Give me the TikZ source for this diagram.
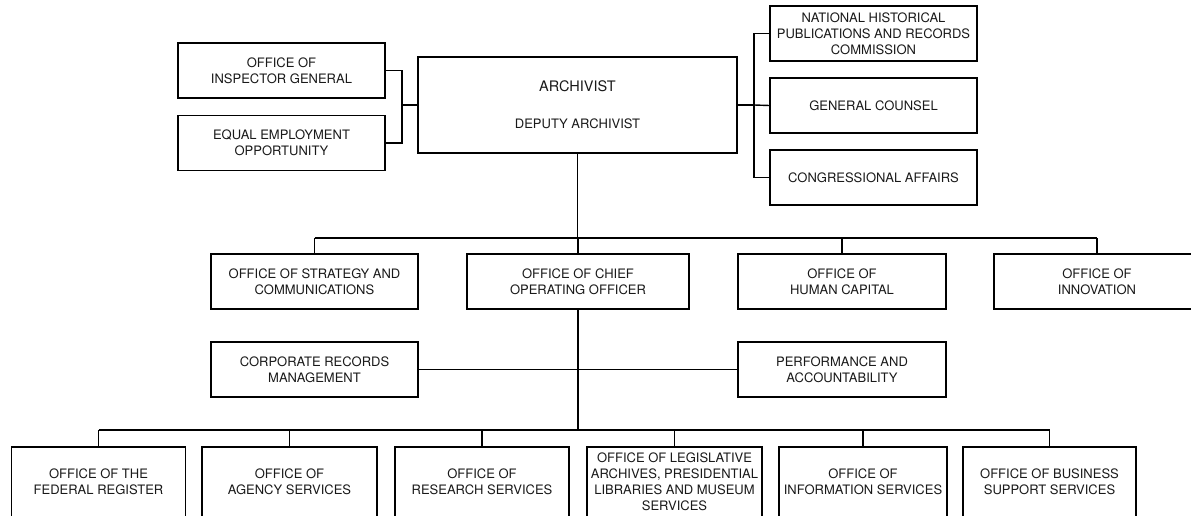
\documentclass[tikz,border=0pt]{standalone}
\usepackage{fontspec}
\setmainfont{TeX Gyre Heros}
\usetikzlibrary{positioning}

\begin{document}
\begin{tikzpicture}[
        x=1pt, y=-1pt,
        font=\fontsize{13}{16}\selectfont,
        box/.style={draw, line width=1.4pt, align=center, inner sep=0pt, minimum width=207pt, minimum height=55pt, fill=white, text=black!90},
        unitbox/.style={box, minimum width=174pt, minimum height=70pt},
        link/.style={line width=1.4pt}
    ]
        \clip (0,0) rectangle (1191,516);

        \node[box] (oig) at (281.5,70.5) {OFFICE OF\\INSPECTOR GENERAL};
        \node[box] (eeo) at (281.5,143) {EQUAL EMPLOYMENT\\OPPORTUNITY};
        \node[box, minimum width=319pt, minimum height=96pt] (archivist) at (577.5,105) {{\fontsize{14.5}{16}\selectfont ARCHIVIST}\\[21pt]DEPUTY ARCHIVIST};

        \node[box] (nhprc) at (873.5,33.5) {NATIONAL HISTORICAL\\PUBLICATIONS AND RECORDS\\COMMISSION};
        \node[box] (counsel) at (873.5,105.5) {GENERAL COUNSEL};
        \node[box] (congress) at (873.5,177.5) {CONGRESSIONAL AFFAIRS};

        \node[box] (strategy) at (314.5,281.5) {OFFICE OF STRATEGY AND\\COMMUNICATIONS};
        \node[box, minimum width=222pt] (coo) at (578,281.5) {OFFICE OF CHIEF\\OPERATING OFFICER};
        \node[box, minimum width=208pt] (capital) at (842,281.5) {OFFICE OF\\HUMAN CAPITAL};
        \node[box, minimum width=206pt] (innovation) at (1097,281.5) {OFFICE OF\\INNOVATION};

        \node[box] (records) at (314.5,369.5) {CORPORATE RECORDS\\MANAGEMENT};
        \node[box, minimum width=208pt] (performance) at (842,369.5) {PERFORMANCE AND\\ACCOUNTABILITY};

        \node[unitbox] (fedreg) at (98.5,482) {OFFICE OF THE\\FEDERAL REGISTER};
        \node[unitbox, minimum width=175pt] (agency) at (289.5,482) {OFFICE OF\\AGENCY SERVICES};
        \node[unitbox] (research) at (482,482) {OFFICE OF\\RESEARCH SERVICES};
        \node[unitbox, minimum width=175pt] (legislative) at (674.5,482) {OFFICE OF LEGISLATIVE\\ARCHIVES, PRESIDENTIAL\\LIBRARIES AND MUSEUM\\SERVICES};
        \node[unitbox, minimum width=168pt] (information) at (863,482) {OFFICE OF\\INFORMATION SERVICES};
        \node[unitbox, minimum width=173pt] (business) at (1049.5,482) {OFFICE OF BUSINESS\\SUPPORT SERVICES};

        \coordinate (leftbus) at (402,105);
        \coordinate (rightbus) at (754,105);
        \coordinate (staffbus) at (578,238);
        \coordinate (unitbus) at (578,430);

        \draw[link] (oig.east) -| (leftbus) |- (eeo.east);
        \draw[link] (leftbus) -- (archivist.west);
        \draw[link] (archivist.east) -- (rightbus);
        \draw[link] (nhprc.west) -| (rightbus) |- (congress.west);
        \draw[link] (rightbus) -- (counsel.west);

        \draw[link] (archivist.south) -- (archivist.south |- staffbus);
        \draw[link] (strategy.north |- staffbus) -- (innovation.north |- staffbus);
        \foreach \n in {strategy,coo,capital,innovation}
            \draw[link] (\n.north) -- (\n.north |- staffbus);

        \draw[link] (coo.south) -- (coo.south |- unitbus);
        \draw[link] (records.east) -- (performance.west);
        \draw[link] (fedreg.north |- unitbus) -- (business.north |- unitbus);
        \foreach \n in {fedreg,agency,research,legislative,information,business}
            \draw[link] (\n.north) -- (\n.north |- unitbus);
    \end{tikzpicture}
\end{document}
